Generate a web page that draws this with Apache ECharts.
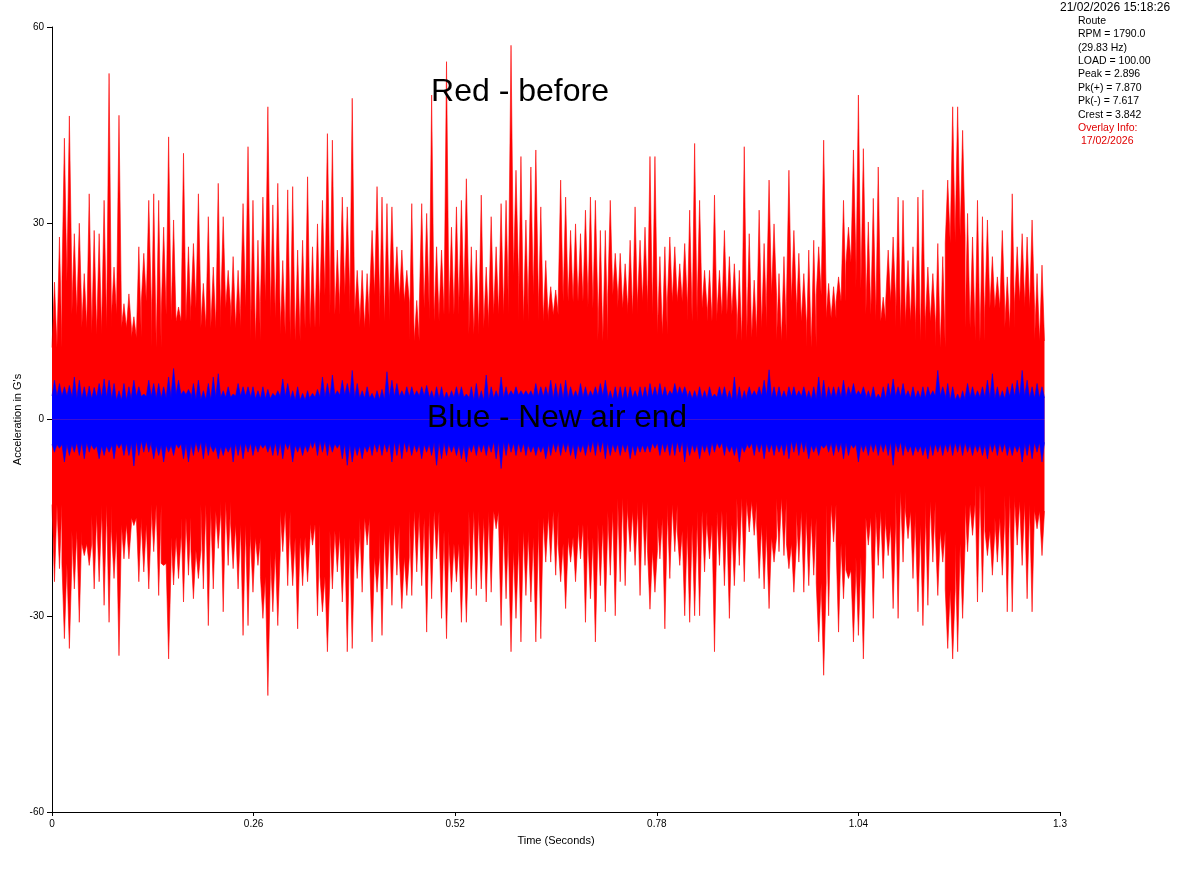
<!DOCTYPE html>
<html>
<head>
<meta charset="utf-8">
<script src="https://cdn.jsdelivr.net/npm/echarts@6/dist/echarts.min.js"></script>
<style>html,body{margin:0;padding:0;background:#fff;}#c{width:1194px;height:882px;}</style>
</head>
<body>
<div id="c"></div>
<script>
// ---- Data ----
const RECORD_SECONDS = 1.28;           // length of both waveforms on the time axis
const xTicks = [0, 0.26, 0.52, 0.78, 1.04, 1.3];
const yTicks = [-60, -30, 0, 30, 60];

// "Red - before": per 1/200 of the record, positive and negative peaks (G)
const redMax = [
21.0,27.9,43.0,46.4,28.4,30.0,22.3,34.5,28.9,28.4,33.5,52.9,23.3,46.5,17.7,19.2,15.7,26.4,25.4,33.5,
34.5,33.5,29.4,43.2,30.5,17.2,40.7,26.4,26.9,34.5,20.8,31.0,23.3,36.1,31.0,22.8,24.9,22.8,33.0,41.7,
33.5,27.4,34.0,47.8,32.8,36.1,24.3,35.1,35.6,25.9,27.4,37.1,26.4,29.9,33.5,43.7,42.7,25.9,34.0,32.5,
49.1,22.8,22.8,22.3,28.9,35.6,34.0,33.0,32.5,26.4,25.9,22.8,33.0,18.2,33.0,31.5,49.6,26.4,25.9,54.7,
29.4,32.5,33.5,36.8,26.4,25.9,34.3,23.3,31.0,26.4,33.0,33.5,57.2,38.1,40.2,30.5,38.6,41.2,32.5,24.3,
20.3,19.8,36.6,34.0,28.9,29.9,28.4,32.0,34.0,33.5,28.9,28.9,33.5,25.4,25.4,23.8,27.4,32.5,27.4,29.4,
40.2,40.2,24.9,26.4,27.9,26.4,23.8,26.9,32.0,42.2,33.5,22.8,22.8,34.3,22.8,28.9,24.9,23.8,22.8,41.7,
28.4,21.3,32.0,26.9,36.6,29.9,22.3,24.9,38.1,28.9,25.4,22.3,25.9,27.4,26.4,42.7,20.8,20.3,21.8,33.5,
29.4,41.2,49.6,41.4,30.2,33.8,38.6,18.7,25.9,27.9,34.0,33.5,24.3,26.4,34.0,35.1,23.3,22.3,26.9,24.9,
36.6,47.8,47.8,44.2,31.5,27.9,33.5,31.0,30.5,24.9,21.8,28.9,21.8,34.5,26.4,28.4,27.9,30.5,22.3,23.6
];
const redMin = [
-24.8,-22.8,-33.5,-35.0,-25.9,-31.0,-20.8,-22.3,-25.9,-24.8,-28.4,-31.0,-24.3,-36.1,-21.3,-21.3,-16.2,-24.8,-23.3,-25.9,
-20.2,-26.9,-22.3,-36.6,-25.3,-24.3,-27.9,-23.8,-27.4,-24.3,-25.9,-31.5,-25.9,-19.7,-29.4,-22.3,-22.8,-25.9,-33.0,-31.5,
-26.4,-22.3,-30.4,-42.2,-29.4,-31.5,-20.2,-25.4,-25.4,-32.0,-25.4,-24.8,-19.2,-30.0,-29.4,-35.5,-25.9,-23.3,-27.9,-35.5,
-35.0,-24.3,-26.4,-19.2,-34.0,-26.4,-33.0,-25.9,-28.4,-23.8,-28.9,-26.9,-26.9,-23.3,-25.4,-32.5,-27.4,-21.3,-30.4,-33.5,
-26.4,-24.8,-31.0,-31.0,-25.9,-26.9,-25.9,-27.9,-26.4,-16.7,-31.5,-27.4,-35.5,-30.4,-34.0,-26.9,-27.9,-34.0,-33.5,-21.8,
-21.8,-23.8,-24.8,-28.9,-21.8,-24.8,-21.3,-31.0,-27.4,-34.0,-25.4,-29.4,-23.8,-30.0,-24.8,-25.4,-20.2,-22.3,-26.9,-22.3,
-29.0,-26.4,-21.3,-32.0,-24.3,-20.2,-22.3,-30.0,-31.0,-30.0,-30.0,-23.3,-21.3,-35.5,-22.3,-25.4,-30.4,-25.4,-22.3,-24.8,
-17.2,-17.7,-24.3,-25.9,-28.9,-21.8,-20.2,-20.8,-22.8,-26.4,-21.8,-26.4,-25.4,-23.8,-34.0,-39.1,-30.0,-18.7,-32.5,-27.4,
-24.3,-34.0,-33.0,-36.6,-19.2,-30.4,-22.3,-24.3,-20.8,-28.9,-30.4,-21.8,-18.2,-24.3,-29.4,-31.5,-28.4,-21.8,-26.9,-21.8,
-35.0,-36.6,-35.5,-30.4,-20.2,-17.7,-27.9,-26.4,-20.8,-23.8,-21.8,-23.8,-29.4,-29.4,-19.2,-22.3,-27.4,-29.4,-16.7,-20.8
];
// solid red core, per 1/100 of the record (G)
const redCoreHi = [
11,21,16,14,13,14,16,14,12.5,18,11,16,15,15,17,14,14,17,14,17,
12,18,15.5,13,12,14,14,19,16,19,16,14,19,15,19,18,12,17,15,16,
16,18,13,14,16,16,22,15,19,15,16,18,18,18,17,12,19,17,16,18,
16,13,18,18,15,17,15,16,16,12,12.5,14,19,12,18,15,11,19,15.5,18,
24,20,16,15,18,14,15,12,15,11,27,28,14,12,17,17,14,18,17,12
];
const redCoreLo = [
-13,-22,-17,-19,-14.5,-13,-17,-16,-15,-16,-13,-22,-18,-15,-20,-13,-14,-12.5,-16,-16,
-18,-24,-20,-14,-18,-18,-16,-24,-17,-18,-18,-15,-21,-17,-16,-21,-14,-15,-14,-17,
-19,-19,-14,-15,-14,-16,-20,-17,-18,-15,-14,-19,-18,-16,-18,-16,-14,-12,-14,-12.5,
-20,-15,-13,-17,-16,-14,-16,-14,-16,-12,-12.5,-16,-18,-12,-19,-14,-15,-25,-13,-19,
-23,-21,-15,-14,-16,-11,-14,-16,-12.5,-17,-26,-19,-13,-10,-17,-15,-11.5,-12.5,-13,-14
];

// "Blue - New air end": per 1/200 of the record, positive and negative peaks (G)
const blueMax = [
6.0,5.5,5.0,5.2,6.5,6.0,5.0,5.1,4.9,5.5,6.2,6.0,5.5,4.4,5.5,5.0,6.0,5.0,3.9,6.0,
5.5,5.5,5.0,6.5,7.8,6.0,4.4,4.6,5.5,6.0,4.4,5.5,6.5,7.0,4.4,5.0,3.9,5.5,5.0,5.0,
5.0,4.4,5.0,4.6,4.0,4.4,6.2,5.5,4.4,5.0,4.0,4.4,4.0,4.6,6.5,5.5,6.8,4.4,6.0,5.5,
7.5,5.5,4.4,5.0,4.0,4.4,4.6,7.3,6.0,5.5,4.4,5.0,5.0,4.4,5.0,5.2,4.4,5.0,5.0,4.2,
4.4,5.0,5.0,3.9,5.0,5.5,4.4,6.8,5.0,4.4,6.5,5.0,4.4,5.0,4.4,4.4,4.4,5.5,5.0,5.0,
6.0,5.5,5.5,6.0,5.0,4.4,5.5,5.0,4.4,5.0,5.5,6.0,4.4,5.0,5.0,5.0,5.0,4.4,5.0,5.0,
5.5,5.0,5.5,5.0,4.4,5.5,5.0,5.0,4.4,4.4,5.0,4.4,5.0,3.9,5.0,5.0,4.4,6.5,5.0,4.4,
5.0,4.4,5.0,6.0,7.6,5.0,5.0,4.4,5.0,5.0,4.4,5.0,4.4,5.0,6.5,6.0,5.0,5.0,5.0,6.0,
5.0,5.5,4.4,5.0,4.4,5.0,3.9,5.0,5.5,6.2,5.0,5.5,4.4,5.0,4.4,5.0,5.0,4.4,7.5,5.0,
5.5,5.0,3.9,4.4,5.5,5.0,4.4,5.0,6.0,7.0,5.0,4.4,5.0,5.5,6.0,7.5,6.0,5.0,5.5,5.0
];
const blueMin = [
-5.0,-4.4,-6.5,-5.5,-5.0,-5.5,-6.0,-5.0,-4.6,-6.0,-5.5,-5.0,-6.0,-4.4,-5.5,-5.5,-7.1,-5.5,-5.0,-5.0,
-6.0,-5.5,-6.5,-5.0,-5.5,-4.4,-6.0,-6.5,-5.5,-5.0,-6.0,-5.5,-5.0,-6.0,-5.5,-5.0,-6.5,-5.5,-6.0,-5.0,
-5.5,-5.0,-4.4,-5.0,-5.5,-5.5,-6.0,-4.6,-6.5,-5.0,-5.5,-5.0,-4.4,-5.5,-5.0,-5.5,-5.0,-4.4,-6.0,-7.0,
-6.5,-5.5,-6.0,-5.0,-5.5,-5.0,-5.5,-5.0,-6.5,-5.5,-6.0,-5.0,-5.5,-5.0,-6.0,-5.0,-5.5,-7.0,-6.0,-5.5,
-5.0,-5.5,-6.0,-6.5,-5.0,-5.5,-5.0,-5.5,-5.0,-6.0,-7.5,-5.5,-5.0,-5.5,-5.0,-5.5,-5.0,-5.5,-5.0,-6.0,
-5.5,-5.0,-5.5,-5.0,-5.5,-6.0,-5.0,-5.5,-5.0,-5.5,-5.0,-6.0,-5.5,-5.0,-5.5,-5.0,-6.0,-5.5,-5.0,-5.0,
-5.0,-4.4,-5.5,-5.0,-5.5,-5.5,-5.0,-6.5,-5.5,-5.0,-6.0,-5.0,-5.5,-5.0,-4.4,-5.5,-5.0,-5.5,-6.5,-5.0,
-4.4,-5.5,-5.0,-6.0,-5.0,-5.5,-5.0,-5.5,-6.0,-5.0,-5.5,-5.0,-6.0,-5.0,-5.5,-4.4,-5.0,-5.5,-5.0,-6.0,
-5.5,-4.4,-6.5,-5.0,-5.5,-5.0,-5.5,-5.0,-5.5,-7.0,-5.0,-5.5,-5.0,-5.5,-5.0,-5.5,-6.0,-5.5,-5.0,-5.5,
-5.0,-5.5,-5.0,-5.5,-5.0,-5.5,-5.0,-5.5,-6.0,-5.0,-5.5,-5.0,-5.5,-5.5,-5.0,-6.5,-5.5,-6.0,-5.0,-6.5
];
// solid blue core, per 1/50 of the record (G)
const blueCoreHi = [3.6,3.2,3.4,3.0,3.5,3.3,3.8,3.1,3.4,3.6,3.2,3.5,3.0,3.4,3.7,3.3,3.1,3.5,3.6,3.2,3.4,3.0,3.3,3.7,3.5,3.2,3.4,3.6,3.1,3.3,3.5,3.8,3.2,3.4,3.0,3.6,3.3,3.5,3.1,3.4,3.7,3.2,3.5,3.3,3.6,3.0,3.4,3.2,3.5,3.3];
const blueCoreLo = [-3.8,-3.5,-4.0,-3.6,-3.3,-3.9,-3.7,-3.4,-4.1,-3.6,-3.8,-3.5,-3.9,-3.3,-3.7,-4.0,-3.6,-3.4,-3.8,-3.5,-3.9,-3.7,-3.4,-3.6,-4.0,-3.5,-3.8,-3.3,-3.7,-3.9,-3.6,-3.4,-3.8,-3.5,-4.0,-3.6,-3.7,-3.3,-3.9,-3.5,-3.8,-3.6,-3.4,-4.0,-3.7,-3.5,-3.8,-3.6,-3.9,-3.5];

const infoLines = ['Route','RPM = 1790.0','(29.83 Hz)','LOAD = 100.00','Peak = 2.896','Pk(+) = 7.870','Pk(-) = 7.617','Crest = 3.842'];
const overlayLines = ['Overlay Info:',' 17/02/2026'];
const stamp = '21/02/2026 15:18:26';

// ---- Build series data (times come from the record length) ----
// each peak rises from the solid core of its bin and falls back to it
function saw(peaks, valleys, phase) {
  const n = peaks.length, dt = RECORD_SECONDS / n, per = n / valleys.length;
  const out = [[0, valleys[0]]];
  peaks.forEach((v, i) => {
    const c = valleys[Math.min(valleys.length - 1, Math.floor(i / per))];
    out.push([(i + phase) * dt, c]);
    out.push([(i + phase + 0.5) * dt, v]);
    out.push([Math.min(RECORD_SECONDS, (i + phase + 1) * dt), c]);
  });
  return out;
}
function areaSeries(data, color, z) {
  return { type: 'line', data, showSymbol: false, silent: true, z,
    lineStyle: { width: 0.6, color }, areaStyle: { color, opacity: 1 } };
}

const FONT = 'Arial, "Liberation Sans", sans-serif';
const graphic = [
  { type: 'text', z: 100, x: 520, y: 92, style: { text: 'Red - before', font: '32px ' + FONT, fill: '#000', textAlign: 'center', textVerticalAlign: 'middle' } },
  { type: 'text', z: 100, x: 557, y: 418, style: { text: 'Blue - New air end', font: '31.6px ' + FONT, fill: '#000', textAlign: 'center', textVerticalAlign: 'middle' } },
  { type: 'text', z: 100, x: 1060, y: 8, style: { text: stamp, font: '12px ' + FONT, fill: '#000', textAlign: 'left', textVerticalAlign: 'middle' } }
];
infoLines.forEach((t, k) => graphic.push({ type: 'text', z: 100, x: 1078, y: 21 + 13.4 * k,
  style: { text: t, font: '10.5px ' + FONT, fill: '#000', textAlign: 'left', textVerticalAlign: 'middle' } }));
overlayLines.forEach((t, k) => graphic.push({ type: 'text', z: 100, x: 1078, y: 21 + 13.4 * (infoLines.length + k),
  style: { text: t, font: '10.5px ' + FONT, fill: '#e00000', textAlign: 'left', textVerticalAlign: 'middle' } }));

const chart = echarts.init(document.getElementById('c'), null, { renderer: 'canvas' });
chart.setOption({
  animation: false,
  backgroundColor: '#fff',
  grid: { left: 52, right: 134, top: 27, bottom: 70 },
  xAxis: {
    type: 'value', min: xTicks[0], max: xTicks[xTicks.length - 1], interval: xTicks[1] - xTicks[0],
    name: 'Time (Seconds)', nameLocation: 'middle', nameGap: 23, nameMoveOverlap: false,
    nameTextStyle: { fontSize: 11, color: '#000', fontFamily: FONT },
    axisLine: { onZero: false, lineStyle: { color: '#000', width: 1 } },
    axisTick: { length: 4, lineStyle: { color: '#000' } },
    axisLabel: { fontSize: 10, color: '#000', fontFamily: FONT, margin: 7, formatter: v => String(+(+v).toFixed(2)) },
    splitLine: { show: false }
  },
  yAxis: {
    type: 'value', min: yTicks[0], max: yTicks[yTicks.length - 1], interval: yTicks[1] - yTicks[0],
    name: "Acceleration in G's", nameLocation: 'middle', nameGap: 29, nameRotate: 90, nameMoveOverlap: false,
    nameTextStyle: { fontSize: 11, color: '#000', fontFamily: FONT },
    axisLine: { show: true, onZero: false, lineStyle: { color: '#000', width: 1 } },
    axisTick: { show: true, length: 5, lineStyle: { color: '#000' } },
    axisLabel: { fontSize: 10, color: '#000', fontFamily: FONT, margin: 8 },
    splitLine: { show: false }
  },
  series: [
    areaSeries(saw(redMax, redCoreHi, 0), '#ff0000', 2),
    areaSeries(saw(redMin, redCoreLo, 0), '#ff0000', 2),
    areaSeries(saw(blueMax, blueCoreHi, 0), '#0000ff', 3),
    areaSeries(saw(blueMin, blueCoreLo, 0), '#0000ff', 3)
  ],
  graphic
});
</script>
</body>
</html>
